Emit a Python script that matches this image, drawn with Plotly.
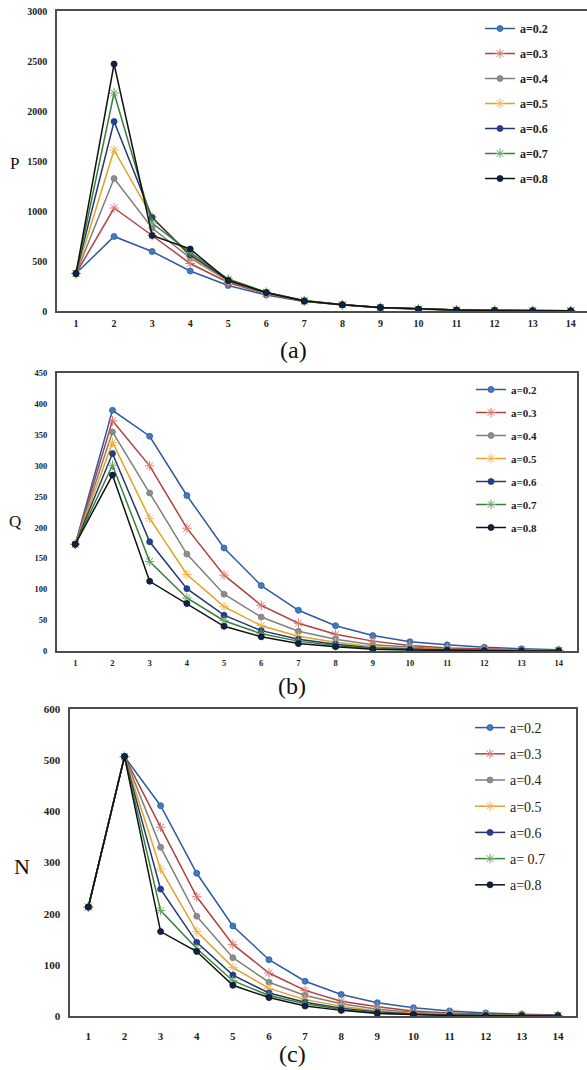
import plotly.graph_objects as go

W, H = 587, 1070
x_vals = list(range(1, 15))
labels_ab = ["a=0.2", "a=0.3", "a=0.4", "a=0.5", "a=0.6", "a=0.7", "a=0.8"]
labels_c = ["a=0.2", "a=0.3", "a=0.4", "a=0.5", "a=0.6", "a= 0.7", "a=0.8"]

# Panel (a): P
P_02 = [375, 745, 595, 400, 255, 160, 95, 60, 32, 18, 9, 5, 3, 2]
P_03 = [375, 1030, 755, 475, 285, 170, 98, 60, 33, 18, 10, 5, 3, 2]
P_04 = [375, 1325, 830, 530, 300, 175, 100, 62, 34, 19, 10, 5, 3, 2]
P_05 = [375, 1610, 940, 545, 305, 180, 102, 63, 35, 19, 10, 5, 3, 2]
P_06 = [375, 1895, 935, 560, 310, 182, 103, 63, 35, 19, 10, 5, 3, 2]
P_07 = [375, 2180, 880, 585, 320, 188, 105, 64, 36, 20, 10, 6, 3, 2]
P_08 = [375, 2470, 755, 620, 305, 185, 100, 62, 35, 19, 10, 5, 3, 2]

# Panel (b): Q
Q_02 = [173, 390, 348, 252, 167, 106, 66, 41, 25, 15, 10, 6, 3.5, 2]
Q_03 = [173, 373, 300, 199, 123, 74, 45, 27, 16, 9, 5, 3, 2, 1]
Q_04 = [173, 355, 256, 157, 92, 55, 32, 19, 10, 6, 3, 2, 1, 0.5]
Q_05 = [173, 338, 215, 124, 72, 41, 24, 14, 7, 4, 2, 1, 0.6, 0.3]
Q_06 = [173, 320, 177, 101, 58, 33, 19, 11, 5, 3, 1.5, 0.8, 0.4, 0.2]
Q_07 = [173, 301, 145, 86, 49, 28, 16, 9, 4, 2, 1, 0.5, 0.3, 0.1]
Q_08 = [173, 285, 113, 77, 40, 23, 12, 7, 3, 1.5, 0.8, 0.4, 0.2, 0.1]

# Panel (c): N
N_02 = [213, 507, 411, 279, 176, 110, 68, 42, 26, 16, 10, 6, 3.5, 2]
N_03 = [213, 507, 369, 233, 140, 84, 50, 29, 18, 10, 6, 3.5, 2, 1]
N_04 = [213, 507, 330, 195, 114, 66, 40, 24, 13, 7.5, 4, 2, 1, 0.5]
N_05 = [213, 507, 287, 165, 95, 54, 32, 19, 10, 5.5, 3, 1.5, 1, 0.5]
N_06 = [213, 507, 248, 144, 80, 45, 27, 15, 8, 4, 2, 1, 0.5, 0.3]
N_07 = [213, 507, 206, 132, 69, 40, 24, 13, 6, 3, 1.5, 0.8, 0.4, 0.2]
N_08 = [213, 507, 165, 126, 60, 36, 19.5, 11, 5, 2.5, 1, 0.5, 0.3, 0.1]

P_series = [P_02, P_03, P_04, P_05, P_06, P_07, P_08]
Q_series = [Q_02, Q_03, Q_04, Q_05, Q_06, Q_07, Q_08]
N_series = [N_02, N_03, N_04, N_05, N_06, N_07, N_08]

P_ticks = [0, 500, 1000, 1500, 2000, 2500, 3000]
Q_ticks = [0, 50, 100, 150, 200, 250, 300, 350, 400, 450]
N_ticks = [0, 100, 200, 300, 400, 500, 600]

line_colors = ["#2E5A9E", "#B0413E", "#7F7F7F", "#E2A129", "#24386E", "#3B7F3B", "#111111"]
marker_colors = ["#3D7CC0", "#D9776F", "#8C8C8C", "#F0B55A", "#1F3F99", "#6AA56A", "#0B2350"]
symbols = ["circle", "asterisk-open", "circle", "asterisk-open", "circle", "asterisk-open", "circle"]

SERIF = "Liberation Serif"

fig = go.Figure()

panels = [
    ("x", "y", "legend", P_series, labels_ab),
    ("x2", "y2", "legend2", Q_series, labels_ab),
    ("x3", "y3", "legend3", N_series, labels_c),
]
for pi, (xa, ya, lg, series, labels) in enumerate(panels):
    for i, (vals, name) in enumerate(zip(series, labels)):
        star = symbols[i] != "circle"
        fig.add_trace(go.Scatter(
            x=x_vals, y=vals, name=name, mode="lines+markers",
            xaxis=xa, yaxis=ya, legend=lg, legendgroup=f"g{pi}{i}",
            line=dict(color=line_colors[i], width=1.5),
            marker=dict(symbol=symbols[i], size=8 if star else 6,
                        color=marker_colors[i],
                        line=dict(color=marker_colors[i] if star else line_colors[i],
                                  width=1 if star else 0.8)),
        ))

axis_color = "#4D4D4D"

def px_dom_x(l, r):
    return [l / W, min(r / W, 1.0)]

def px_dom_y(t, b):
    return [1 - b / H, 1 - t / H]

def xaxis(dom, rng, fs, standoff, anchor, mirror=True):
    return dict(domain=dom, range=rng, tickmode="array", tickvals=x_vals,
                ticktext=[f"<b>{v}</b>" for v in x_vals], anchor=anchor,
                showgrid=False, zeroline=False, showline=True, linecolor=axis_color,
                linewidth=1.5, mirror=mirror, ticks="", automargin=False,
                ticklabelstandoff=standoff,
                tickfont=dict(family=SERIF, size=fs, color="#222222"))

def yaxis(dom, rng, tvals, anchor, fs, mirror=True):
    return dict(domain=dom, range=rng, tickmode="array", tickvals=tvals,
                ticktext=[f"<b>{v}</b>" for v in tvals], automargin=False,
                showgrid=False, zeroline=False, showline=True, linecolor=axis_color,
                linewidth=1.5, mirror=mirror, ticks="", anchor=anchor,
                ticklabelstandoff=6,
                tickfont=dict(family=SERIF, size=fs, color="#222222"))

fig.update_layout(
    width=W, height=H, autosize=False,
    margin=dict(l=0, r=0, t=0, b=0, pad=0, autoexpand=False),
    paper_bgcolor="white", plot_bgcolor="white",
    xaxis=xaxis(px_dom_x(57, 587), [0.5, 0.5 + (587 - 57) / 38.05], 10, 2, "y"),
    yaxis=yaxis(px_dom_y(11, 311), [0, 3000], P_ticks, "x", 10, mirror=False),
    xaxis2=xaxis(px_dom_x(56.7, 577.3), [0.5, 14.5], 8.5, 3, "y2"),
    yaxis2=yaxis(px_dom_y(373.3, 651), [0, 450], Q_ticks, "x2", 8.5),
    xaxis3=xaxis(px_dom_x(70.3, 576), [0.5, 14.5], 11, 9, "y3"),
    yaxis3=yaxis(px_dom_y(709, 1016), [0, 600], N_ticks, "x3", 11),
    legend=dict(x=480 / W, y=1 - 14 / H, xanchor="left", yanchor="top",
                bgcolor="rgba(0,0,0,0)", tracegroupgap=6,
                font=dict(family=SERIF, size=12, color="#222222", weight="bold")),
    legend2=dict(x=471 / W, y=1 - 375 / H, xanchor="left", yanchor="top",
                 bgcolor="rgba(0,0,0,0)", tracegroupgap=4,
                 font=dict(family=SERIF, size=11, color="#222222", weight="bold")),
    legend3=dict(x=470 / W, y=1 - 712 / H, xanchor="left", yanchor="top",
                 bgcolor="rgba(0,0,0,0)", tracegroupgap=5,
                 font=dict(family=SERIF, size=14, color="#222222")),
)

annots = [
    ("P", 14.5, 163, 17),
    ("Q", 15, 521.7, 17),
    ("N", 21.5, 867, 22),
    ("(a)", 293, 350, 24),
    ("(b)", 292, 686, 24),
    ("(c)", 292.5, 1054, 24),
]
for text, xp, yp, fs in annots:
    fig.add_annotation(text=text, x=xp / W, y=1 - yp / H, xref="paper", yref="paper",
                       showarrow=False, xanchor="center", yanchor="middle",
                       font=dict(family=SERIF, size=fs, color="#111111"))

fig.write_html("out.html", config={"displayModeBar": False},
               post_script="document.body.style.margin='0';document.body.style.overflow='hidden';")
